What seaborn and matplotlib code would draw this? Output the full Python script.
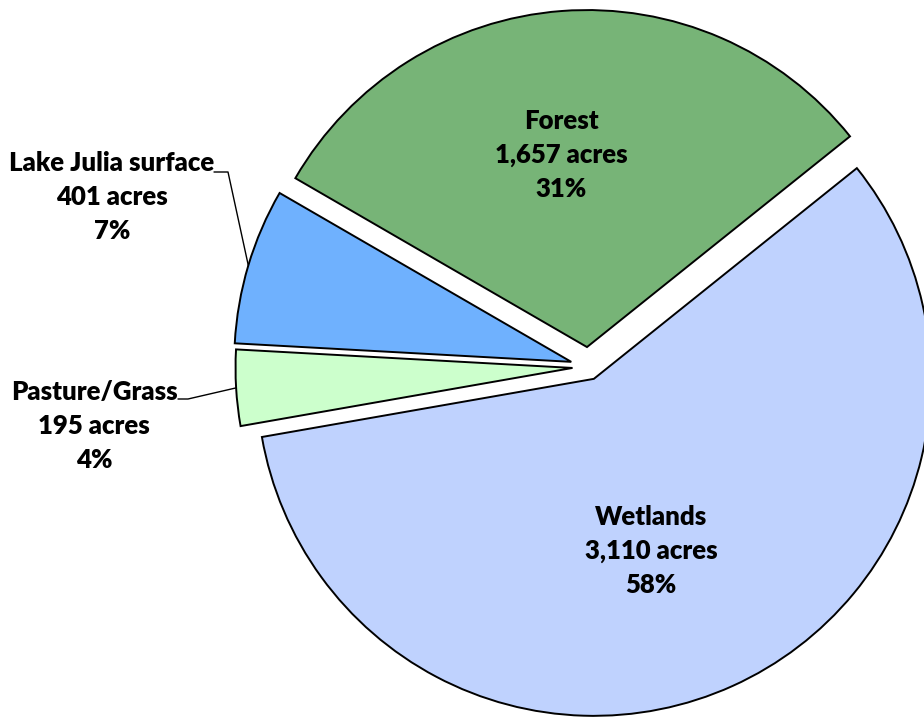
import math
import matplotlib
matplotlib.use("Agg")
import matplotlib.pyplot as plt
import seaborn as sns

sns.set_theme(style="white")
plt.rcParams["font.family"] = ["Lato", "DejaVu Sans"]

# Land cover around Lake Julia (acres), drawn clockwise from the upper right
categories = ["Wetlands", "Pasture/Grass", "Lake Julia surface", "Forest"]
acres = [3110, 195, 401, 1657]
percent_labels = ["58%", "4%", "7%", "31%"]
colors = ["#BFD2FE", "#CCFFCC", "#6FB1FE", "#77B477"]
explode = [13, 16, 18, 20]

W, H = 924, 717
fig = plt.figure(figsize=(W / 100, H / 100), dpi=100)
ax = fig.add_axes([0, 0, 1, 1])

R = 337
center = (588.5, H - 367)
wedges, _ = ax.pie(
    acres,
    colors=colors,
    explode=explode,
    radius=R,
    center=center,
    startangle=38.7,
    counterclock=False,
    wedgeprops=dict(edgecolor="black", linewidth=1.4),
    frame=True,
)
ax.set_xlim(0, W)
ax.set_ylim(0, H)
ax.set_aspect("equal")
ax.axis("off")


def label_text(i):
    return f"{categories[i]}\n{acres[i]:,} acres\n{percent_labels[i]}"


style = dict(fontsize=18.5, fontweight="heavy", color="black",
             ha="center", va="center", linespacing=1.5)

# inside labels
ax.text(561, H - 155, label_text(3), **style)
ax.text(651, H - 551, label_text(0), **style)

# outside labels with leader lines
ax.text(112, H - 197, label_text(2), **style)
ax.text(94, H - 426, label_text(1), **style)


def arc_point(w):
    mid = math.radians((w.theta1 + w.theta2) / 2)
    cx, cy = w.center
    return cx + w.r * math.cos(mid), cy + w.r * math.sin(mid)


lx, ly = arc_point(wedges[2])
ax.plot([214, 228, lx], [H - 172, H - 172, ly], color="black", lw=1.0)
px, py = arc_point(wedges[1])
ax.plot([178, 188, px], [H - 399, H - 399, py], color="black", lw=1.0)

fig.savefig("out.png", dpi=100, facecolor="white")
